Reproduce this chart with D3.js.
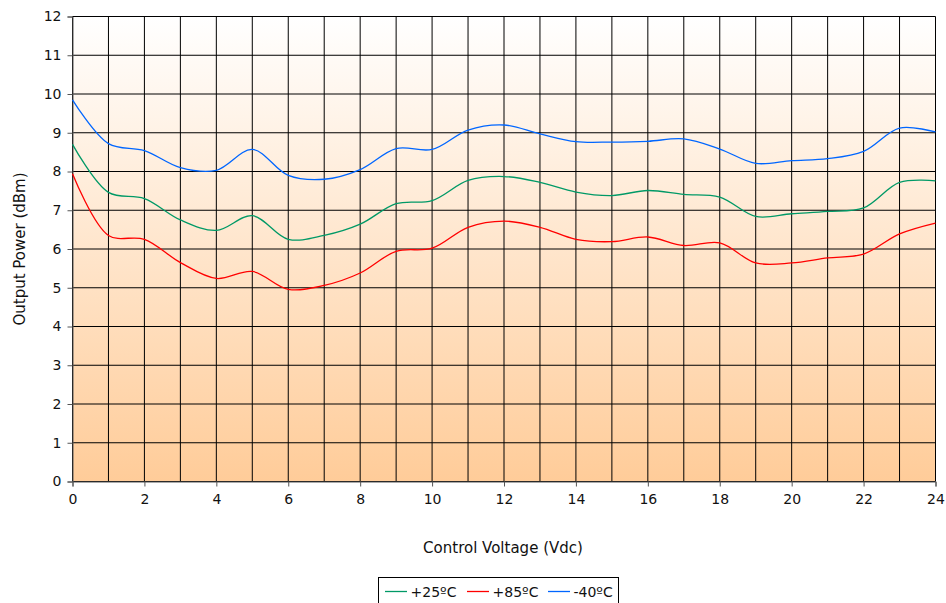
<!DOCTYPE html>
<html><head><meta charset="utf-8">
<script src="https://cdn.jsdelivr.net/npm/d3@7"></script>
<style>body{margin:0;background:#fff}svg{display:block;font-family:"DejaVu Sans",Verdana,sans-serif}</style>
</head><body>
<svg id="c" width="946" height="603"></svg>
<script>
const voltage = d3.range(0, 25);
const t25 = [8.7,7.46,7.3,6.75,6.48,6.86,6.25,6.35,6.64,7.17,7.25,7.77,7.87,7.72,7.47,7.38,7.51,7.41,7.34,6.84,6.91,6.97,7.06,7.72,7.76];
const t85 = [7.94,6.35,6.25,5.65,5.24,5.42,4.96,5.06,5.38,5.94,6.02,6.56,6.72,6.56,6.25,6.19,6.31,6.09,6.16,5.64,5.64,5.77,5.87,6.39,6.67];
const tm40 = [9.85,8.72,8.54,8.1,8.03,8.57,7.9,7.8,8.05,8.59,8.57,9.07,9.2,8.97,8.77,8.76,8.78,8.84,8.58,8.21,8.28,8.33,8.52,9.12,9.02];
const seriesNames = ["+25ºC","+85ºC","-40ºC"];
const seriesColors = ["#009966","#ff0000","#0066ff"];
const xTicks = d3.range(0, 25, 2);
const yTicks = d3.range(0, 13, 1);

const svg = d3.select("#c");
const L = 72.5, R = 935.5, T = 16.5, B = 481.5;
const x = d3.scaleLinear().domain([0,24]).range([L,R]);
const y = d3.scaleLinear().domain([0,12]).range([B,T]);

const defs = svg.append("defs");
const g = defs.append("linearGradient").attr("id","bg").attr("x1",0).attr("y1",0).attr("x2",0).attr("y2",1);
g.append("stop").attr("offset","0%").attr("stop-color","#ffffff");
g.append("stop").attr("offset","100%").attr("stop-color","#ffcc99");
svg.append("rect").attr("x",L).attr("y",T).attr("width",R-L).attr("height",B-T).attr("fill","url(#bg)");

// grid
svg.append("g").selectAll("line").data(d3.range(0,25)).join("line")
  .attr("x1",d=>x(d)).attr("x2",d=>x(d)).attr("y1",T).attr("y2",B)
  .attr("stroke","#000").attr("stroke-width",1);
svg.append("g").selectAll("line").data(yTicks).join("line")
  .attr("x1",L).attr("x2",R).attr("y1",d=>y(d)).attr("y2",d=>y(d))
  .attr("stroke","#000").attr("stroke-width",1);

// axes
const xa = svg.append("g").attr("transform",`translate(0,${B})`)
  .call(d3.axisBottom(x).tickValues(xTicks).tickSize(5).tickPadding(8).tickFormat(d3.format("d")));
const ya = svg.append("g").attr("transform",`translate(${L},0)`)
  .call(d3.axisLeft(y).tickValues(yTicks).tickSize(5).tickPadding(6).tickFormat(d3.format("d")));
[xa,ya].forEach(a=>{
  a.select(".domain").attr("stroke","#555");
  a.selectAll(".tick line").attr("stroke","#555");
  a.selectAll("text").attr("font-size",14).attr("fill","#111").attr("font-family","DejaVu Sans, Verdana, sans-serif");
});

// lines
const line = d3.line().x((d,i)=>x(voltage[i])).y(d=>y(d)).curve(d3.curveCatmullRom.alpha(0.5));
[t25,t85,tm40].forEach((s,i)=>{
  svg.append("path").attr("d",line(s)).attr("fill","none")
    .attr("stroke",seriesColors[i]).attr("stroke-width",1.3);
});

// titles
svg.append("text").attr("x",503).attr("y",553).attr("text-anchor","middle")
  .attr("font-size",15).attr("fill","#111").text("Control Voltage (Vdc)");
svg.append("text").attr("transform",`translate(25,${(T+B)/2}) rotate(-90)`).attr("text-anchor","middle")
  .attr("font-size",15).attr("fill","#111").text("Output Power (dBm)");

// legend
svg.append("rect").attr("x",378.5).attr("y",577.5).attr("width",240).attr("height",30)
  .attr("fill","#fff").attr("stroke","#000").attr("stroke-width",1);
const legX = [385, 467, 548];
seriesNames.forEach((n,i)=>{
  svg.append("line").attr("x1",legX[i]).attr("x2",legX[i]+22).attr("y1",591.5).attr("y2",591.5)
    .attr("stroke",seriesColors[i]).attr("stroke-width",1.3);
  svg.append("text").attr("x",legX[i]+25.5).attr("y",597).attr("font-size",14).attr("fill","#111").text(n);
});
</script>
</body></html>
